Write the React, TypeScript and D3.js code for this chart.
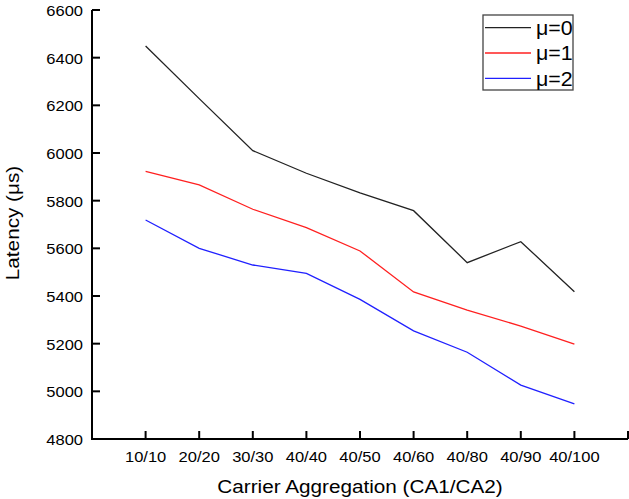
import React from "react";
import * as d3 from "d3";

const categories = ["10/10", "20/20", "30/30", "40/40", "40/50", "40/60", "40/80", "40/90", "40/100"];
const mu0 = [6449, 6228, 6010, 5915, 5833, 5758, 5540, 5628, 5418];
const mu1 = [5923, 5866, 5764, 5687, 5589, 5417, 5341, 5274, 5198];
const mu2 = [5719, 5600, 5530, 5495, 5386, 5254, 5164, 5026, 4947];
const seriesNames = ["μ=0", "μ=1", "μ=2"];
const seriesColors = ["#222222", "#ff2020", "#2020ff"];
const yTicks = [4800, 5000, 5200, 5400, 5600, 5800, 6000, 6200, 6400, 6600];

const W = 629, H = 499;
const left = 92, right = 628, top = 10, bottom = 439;

export default function App() {
  const x = d3.scaleLinear().domain([0, categories.length + 1]).range([left, right]);
  const y = d3.scaleLinear().domain([4800, 6600]).range([bottom, top]);
  const series = [mu0, mu1, mu2];
  const line = d3.line<number>().x((_, i) => x(i + 1)).y((d) => y(d));
  const font = "'Liberation Sans', Arial, sans-serif";
  const xTickPos = d3.range(1, categories.length + 2);
  const sx = 1.18;
  return (
    <svg width={W} height={H} style={{ position: "absolute", left: 0, top: 0, background: "#fff" }} fontFamily={font}>
      {series.map((s, i) => (
        <path key={i} d={line(s) || ""} fill="none" stroke={seriesColors[i]} strokeWidth={1.3} />
      ))}
      {/* axes */}
      <line x1={left} x2={left} y1={top} y2={bottom + 1} stroke="#000" strokeWidth={2} />
      <line x1={left - 1} x2={right} y1={bottom} y2={bottom} stroke="#000" strokeWidth={2} />
      {yTicks.map((t) => (
        <g key={t}>
          <line x1={left} x2={left + 8} y1={y(t)} y2={y(t)} stroke="#000" strokeWidth={2} />
          <text transform={`translate(${left - 9},${y(t) + 6}) scale(${sx},1)`} textAnchor="end" fontSize={14} fill="#000">{t}</text>
        </g>
      ))}
      {xTickPos.map((p) => (
        <line key={p} x1={x(p)} x2={x(p)} y1={bottom} y2={bottom - 8} stroke="#000" strokeWidth={2} />
      ))}
      {categories.map((c, i) => (
        <text key={c} transform={`translate(${x(i + 1)},461.5) scale(${sx},1)`} textAnchor="middle" fontSize={14} fill="#000">{c}</text>
      ))}
      <text transform={`translate(${(left + right) / 2},493) scale(1.12,1)`} textAnchor="middle" fontSize={18.5} fill="#000">Carrier Aggregation (CA1/CA2)</text>
      <text transform={`translate(19,223) rotate(-90) scale(1.12,1)`} textAnchor="middle" fontSize={18.5} fill="#000">Latency (μs)</text>
      {/* legend */}
      <rect x={483} y={15} width={90} height={75} fill="#fff" stroke="#444" strokeWidth={1.3} />
      {seriesNames.map((n, i) => (
        <g key={n}>
          <line x1={485} x2={531} y1={27.7 + i * 25.3} y2={27.7 + i * 25.3} stroke={seriesColors[i]} strokeWidth={1.3} />
          <text transform={`translate(536,${27.7 + i * 25.3 + 7.3}) scale(1.07,1)`} fontSize={20} fill="#000">{n}</text>
        </g>
      ))}
    </svg>
  );
}
